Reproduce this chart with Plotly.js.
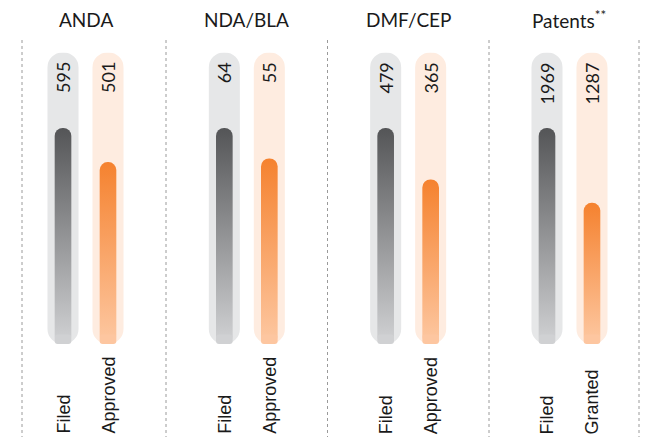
<!DOCTYPE html>
<html><head><meta charset="utf-8">
<script src="https://cdn.plot.ly/plotly-3.0.1.min.js"></script>
<style>html,body{margin:0;padding:0;background:#fff}#chart{width:647px;height:445px}</style>
</head><body><div id="chart"></div>
<script>
// ---- data ----
const panelTitles = ['ANDA', 'NDA/BLA', 'DMF/CEP', 'Patents<sup>**</sup>'];
const firstLabels = ['Filed', 'Filed', 'Filed', 'Filed'];
const secondLabels = ['Approved', 'Approved', 'Approved', 'Granted'];
const filedValues = [595, 64, 479, 1969];
const approvedValues = [501, 55, 365, 1287];

// ---- style constants ----
const W = 647, H = 445;
const PILL_TOP = 135, PX_PER_UNIT = (344 - 52.4) / 135;
const FOOT_H = 9.5 / PX_PER_UNIT;
const PILL_W = 0.69, INNER_W = 0.37;
const greyBg = '#e6e7e8', peachBg = '#feece0';
const greyFoot = '#d0d1d3', orangeFoot = '#fdc6a0';
const titleFont = {family: 'Lato, sans-serif', size: 19, color: '#1a1a1a'};
const valueFont = {family: 'Lato, sans-serif', size: 18, color: '#1a1a1a'};
const labelFont = {family: 'Liberation Sans, Arial, sans-serif', size: 18, color: '#1a1a1a'};

const data = [];
const annotations = [];
const shapes = [];
const layout = {
  width: W, height: H,
  margin: {l: 0, r: 0, t: 0, b: 0},
  paper_bgcolor: '#fff', plot_bgcolor: 'rgba(0,0,0,0)',
  barmode: 'overlay', showlegend: false, hovermode: false,
  yaxis: {range: [0, PILL_TOP], domain: [(H - 344) / H, (H - 52.4) / H],
          showgrid: false, zeroline: false, showticklabels: false, fixedrange: true},
  shapes: shapes, annotations: annotations
};

panelTitles.forEach((title, k) => {
  const ax = k === 0 ? 'x' : 'x' + (k + 1);
  const axName = k === 0 ? 'xaxis' : 'xaxis' + (k + 1);
  const cats = [firstLabels[k], secondLabels[k]];
  const c = 85.5 + 161.33 * k;
  layout[axName] = {
    type: 'category', categoryorder: 'array', categoryarray: cats,
    range: [-1.1667, 2.1667], domain: [(c - 75) / W, (c + 75) / W],
    anchor: 'y', showgrid: false, zeroline: false, showline: false,
    showticklabels: false, ticks: '', fixedrange: true
  };
  const pct = [100, 100 * approvedValues[k] / filedValues[k]];
  const common = {type: 'bar', xaxis: ax, yaxis: 'y', x: cats, hoverinfo: 'skip'};
  // background pill (floating bar -> both ends rounded)
  data.push(Object.assign({}, common, {base: [0, 0], y: [PILL_TOP, PILL_TOP], width: PILL_W,
    marker: {color: [greyBg, peachBg], cornerradius: '50%', line: {width: 0}}}));
  // inner value bar (gradient applied after render)
  data.push(Object.assign({}, common, {base: [0, 0], y: pct, width: INNER_W,
    meta: 'gradient', marker: {color: ['#777', '#f5822f'], cornerradius: '50%', line: {width: 0}}}));
  // flatter foot of the inner bar, following the pill's round end
  data.push(Object.assign({}, common, {base: [0, 0], y: [FOOT_H, FOOT_H], width: INNER_W,
    marker: {color: [greyFoot, orangeFoot], cornerradius: 3, line: {width: 0}}}));

  annotations.push({xref: ax + ' domain', yref: 'paper', x: 0.5, y: (H - 19.5) / H,
    xanchor: 'center', yanchor: 'middle', text: title, showarrow: false, font: titleFont});
  const vals = [filedValues[k], approvedValues[k]];
  cats.forEach((cat, i) => {
    annotations.push({xref: ax, yref: 'y', x: i, y: PILL_TOP, yshift: -8, xanchor: 'center', yanchor: 'top',
      textangle: -90, text: String(vals[i]), showarrow: false, font: valueFont});
    annotations.push({xref: ax, yref: 'paper', x: i, y: (H - 436) / H, xanchor: 'center', yanchor: 'bottom',
      textangle: -90, text: cat, showarrow: false, font: labelFont});
  });
});

[22, 166, 327.5, 489, 639].forEach(px => {
  shapes.push({type: 'line', xref: 'paper', yref: 'paper', x0: px / W, x1: px / W,
    y0: (H - 40) / H, y1: (H - 437) / H, line: {color: '#9a9a9a', width: 1, dash: 'dot'}});
});

function applyGradients(gd) {
  const svg = gd.querySelector('svg.main-svg');
  if (!svg) return;
  let defs = svg.querySelector('defs');
  if (!defs) { defs = document.createElementNS('http://www.w3.org/2000/svg', 'defs'); svg.insertBefore(defs, svg.firstChild); }
  const grads = {gradGrey: ['#545557', '#d1d2d4'], gradOrange: ['#f5822f', '#fdc8a2']};
  Object.keys(grads).forEach(id => {
    if (document.getElementById(id)) return;
    const g = document.createElementNS('http://www.w3.org/2000/svg', 'linearGradient');
    g.setAttribute('id', id); g.setAttribute('x1', '0'); g.setAttribute('y1', '0');
    g.setAttribute('x2', '0'); g.setAttribute('y2', '1');
    grads[id].forEach((col, j) => {
      const s = document.createElementNS('http://www.w3.org/2000/svg', 'stop');
      s.setAttribute('offset', j === 0 ? '0' : '1'); s.setAttribute('stop-color', col);
      g.appendChild(s);
    });
    defs.appendChild(g);
  });
  gd.querySelectorAll('g.trace.bars').forEach(tr => {
    const cd = tr.__data__;
    if (!cd || !cd[0] || !cd[0].trace || cd[0].trace.meta !== 'gradient') return;
    tr.querySelectorAll('g.point path').forEach((p, i) => {
      p.style.fill = i === 0 ? 'url(#gradGrey)' : 'url(#gradOrange)';
    });
  });
}

const gd = document.getElementById('chart');
Plotly.newPlot(gd, data, layout, {staticPlot: true, displayModeBar: false}).then(() => {
  applyGradients(gd);
  gd.on('plotly_afterplot', () => applyGradients(gd));
});
</script></body></html>
